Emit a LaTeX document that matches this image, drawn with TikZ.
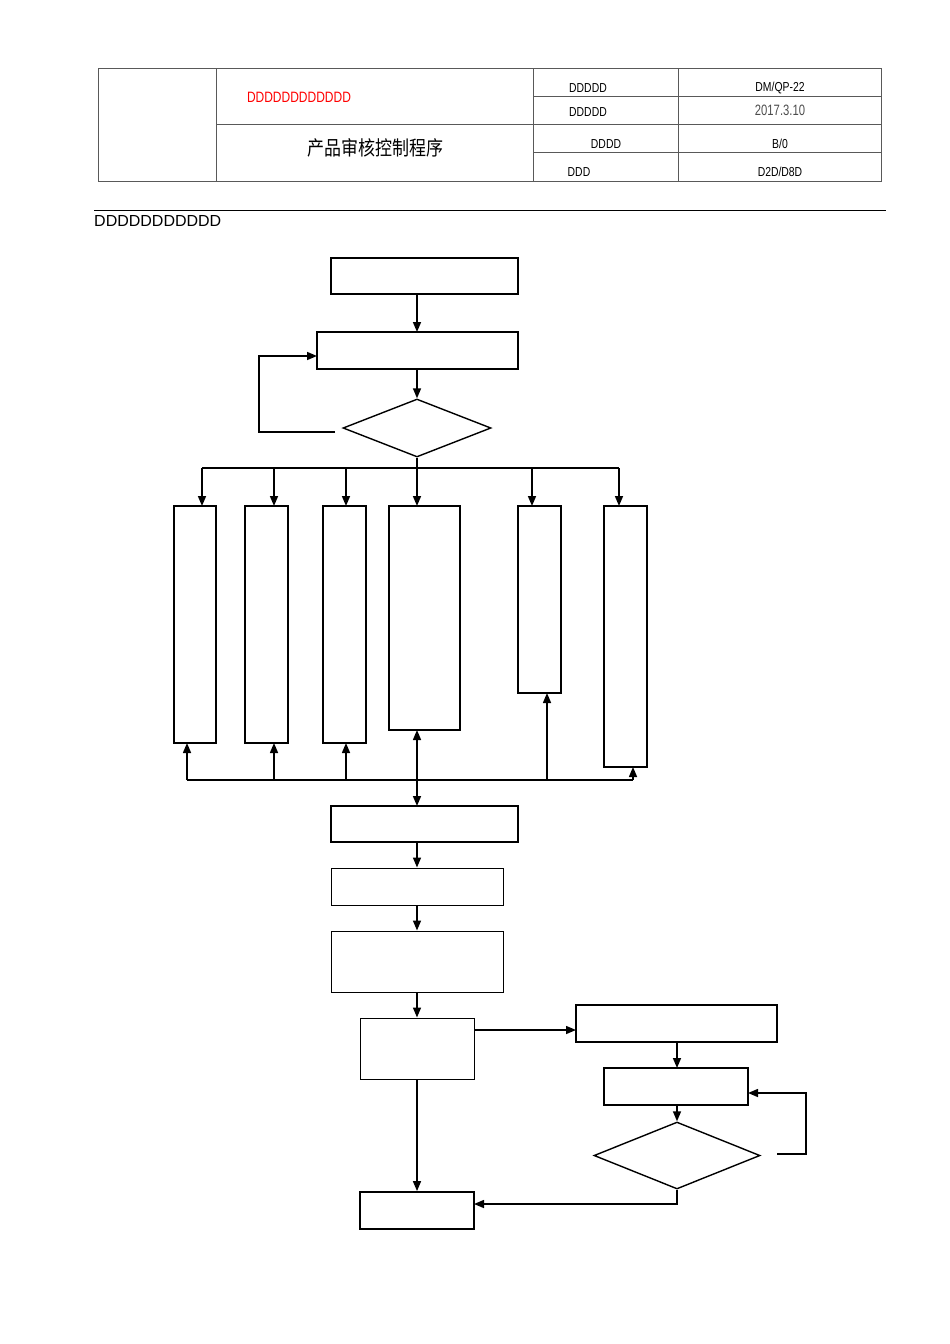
\documentclass[tikz,border=0pt]{standalone}
\usepackage{fontspec}
\setmainfont{Liberation Sans}
\newfontfamily\cjk{Noto Sans CJK SC}
\usetikzlibrary{shapes.geometric,arrows.meta}
\begin{document}
\begin{tikzpicture}[x=1pt,y=-1pt,
  box/.style={draw,line width=1.8pt},
  dia/.style={draw,line width=1.4pt},
  arr/.style={-{Triangle[length=10pt,width=8pt]},line width=1.5pt},
  ln/.style={line width=1.5pt},
  cell/.style={font=\fontsize{13}{13}\selectfont\addfontfeatures{FakeStretch=0.8},anchor=center},
  grid/.style={line width=0.8pt,gray!70!black}]
\useasboundingbox (0,0) rectangle (950,1344);
% header
\draw[grid] (98,68) rectangle (881,181);
\draw[grid] (216,68)--(216,181) (533,68)--(533,181) (678,68)--(678,181)
  (216,124)--(881,124) (533,96)--(881,96) (533,152)--(881,152);
\node[cell,text=red,font=\fontsize{15}{15}\selectfont\addfontfeatures{FakeStretch=0.8}] (t0) at (299,97) {DDDDDDDDDDDD};
\node[font=\cjk\fontsize{20}{20}\selectfont\addfontfeatures{FakeStretch=0.85}] (t1) at (375,148) {产品审核控制程序};
\node[cell] (a1) at (588,88) {DDDDD};
\node[cell] (a2) at (588,112) {DDDDD};
\node[cell] (a3) at (606,144) {DDDD};
\node[cell] (a4) at (579,172) {DDD};
\node[cell] (b1) at (780,88) {DM/QP-22};
\node[cell,font=\fontsize{15}{15}\selectfont\addfontfeatures{FakeStretch=0.75},text=gray!60!black] (b2) at (780,110) {2017.3.10};
\node[cell] (b3) at (780,144) {B/0};
\node[cell] (b4) at (780,172) {D2D/D8D};
\draw[line width=1pt] (94,210)--(886,210);
\node[anchor=west,inner sep=0,font=\fontsize{16}{16}\selectfont] (hd) at (94,221) {DDDDDDDDDDD};
% flow
\node[box,minimum width=187pt,minimum height=36pt] (B1) at (424.5,276) {};
\node[box,minimum width=201pt,minimum height=37pt] (B2) at (417.5,350.5) {};
\node[dia,diamond,minimum width=148pt,minimum height=58pt,inner sep=0,aspect=2.55] (D1) at (417,428) {};
\draw[arr] (417,294)--(417,332);
\draw[arr] (417,369)--(D1.north);
\coordinate (L1) at (335,432);
\draw[arr] (L1)--(259,432)--(259,356)--(317,356);
\draw[ln] (202,468)--(619,468) (D1.south)--(417,468);
\node[box,minimum width=42pt,minimum height=237pt] (C1) at (195,624.5) {};
\node[box,minimum width=43pt,minimum height=237pt] (C2) at (266.5,624.5) {};
\node[box,minimum width=43pt,minimum height=237pt] (C3) at (344.5,624.5) {};
\node[box,minimum width=71pt,minimum height=224pt] (C4) at (424.5,618) {};
\node[box,minimum width=43pt,minimum height=187pt] (C5) at (539.5,599.5) {};
\node[box,minimum width=43pt,minimum height=261pt] (C6) at (625.5,636.5) {};
\foreach \x in {202,274,346,417,532,619} \draw[arr] (\x,468)--(\x,506);
\draw[ln] (187,780)--(633,780);
\draw[arr] (187,780)--(187,743);
\draw[arr] (274,780)--(274,743);
\draw[arr] (346,780)--(346,743);
\draw[arr] (417,780)--(417,730);
\draw[arr] (547,780)--(547,693);
\draw[arr] (633,780)--(633,767);
\node[box,minimum width=187pt,minimum height=36pt] (B3) at (424.5,824) {};
\draw[arr] (417,780)--(417,806);
\node[draw,line width=1pt,minimum width=172pt,minimum height=37pt] (B4) at (417,886.5) {};
\node[draw,line width=1pt,minimum width=172pt,minimum height=61pt] (B5) at (417,961.5) {};
\node[draw,line width=1pt,minimum width=114pt,minimum height=61pt] (B6) at (417,1048.5) {};
\draw[arr] (417,842)--(B4.north);
\draw[arr] (B4.south)--(B5.north);
\draw[arr] (B5.south)--(B6.north);
\node[box,minimum width=201pt,minimum height=37pt] (B7) at (676.5,1023.5) {};
\draw[arr] (474,1030)--(576,1030);
\node[box,minimum width=144pt,minimum height=37pt] (B8) at (676,1086.5) {};
\draw[arr] (677,1042)--(677,1068);
\node[dia,diamond,minimum width=166pt,minimum height=67pt,inner sep=0,aspect=2.5] (D2) at (677,1155.5) {};
\draw[arr] (677,1105)--(D2.north);
\coordinate (L2) at (777,1154);
\draw[arr] (L2)--(806,1154)--(806,1093)--(748,1093);
\node[box,minimum width=114pt,minimum height=37pt] (B9) at (417,1210.5) {};
\draw[arr] (B6.south)--(B9.north);
\draw[arr] (D2.south)--(677,1204)--(474,1204);
\end{tikzpicture}
\end{document}
